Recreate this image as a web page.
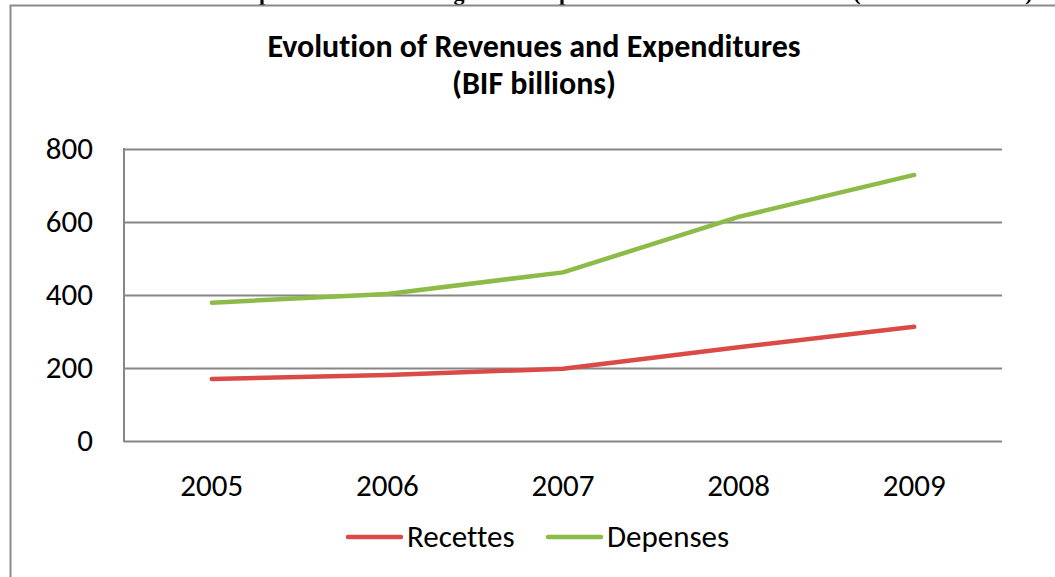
<!DOCTYPE html>
<html>
<head>
<meta charset="utf-8">
<script src="https://cdn.jsdelivr.net/npm/d3@7"></script>
<style>
	body { margin: 0; background: #fff; }
	svg { display: block; }
	text { font-family: Calibri, Carlito, "Open Sans", sans-serif; fill: #000; font-variant-ligatures: none; }
</style>
</head>
<body>
<div id="chart"></div>
<script>
const years = ["2005", "2006", "2007", "2008", "2009"];
const recettes = [170, 181, 198, 257, 313];
const depenses = [379, 403, 462, 614, 729];
const y_ticks = [0, 200, 400, 600, 800];
const series_names = ["Recettes", "Depenses"];
// fragments of the page heading that is cut off above the chart
const cut_glyphs = ["p", "g", "p", "(", ")"];
const cut_glyph_x = [265, 459, 565, 857, 1029];

const width = 1055;
const height = 577;
const margin = { top: 149, right: 53, bottom: 136, left: 124 };
const color_list = ["#da4b48", "#8cbb47"];

const svg = d3
	.select("#chart")
	.append("svg")
	.attr("width", width)
	.attr("height", height);

// heading above, only its descenders are visible
svg
	.selectAll(".cut")
	.data(cut_glyphs)
	.join("text")
	.attr("class", "cut")
	.attr("x", (d, i) => cut_glyph_x[i])
	.attr("y", 0)
	.attr("text-anchor", "middle")
	.style("font-family", "'Liberation Serif', serif")
	.style("font-weight", "bold")
	.style("font-size", "22px")
	.text((d) => d);

// outer chart border
svg
	.append("path")
	.attr("d", `M10.5,${height} V5.5 H${width}`)
	.attr("fill", "none")
	.attr("stroke", "#8a8a8a")
	.attr("stroke-width", 2);

const x = d3
	.scaleBand()
	.domain(years)
	.range([margin.left, width - margin.right]);

const y = d3
	.scaleLinear()
	.domain([0, 800])
	.range([height - margin.bottom, margin.top]);

// gridlines
svg
	.append("g")
	.attr("class", "grid")
	.attr("transform", `translate(${margin.left}, 0)`)
	.call(
		d3
			.axisLeft(y)
			.tickValues(y_ticks)
			.tickSize(-(width - margin.left - margin.right))
			.tickFormat("")
	)
	.call((g) => g.select(".domain").remove())
	.call((g) => g.selectAll("line").attr("stroke", "#868686").attr("stroke-width", 2));

// y axis line
svg
	.append("line")
	.attr("x1", margin.left)
	.attr("x2", margin.left)
	.attr("y1", y(800) - 1)
	.attr("y2", y(0) + 1)
	.attr("stroke", "#868686")
	.attr("stroke-width", 2);

// y tick labels
svg
	.selectAll(".ylab")
	.data(y_ticks)
	.join("text")
	.attr("class", "ylab")
	.attr("x", 93)
	.attr("y", (d) => y(d) + 10)
	.attr("text-anchor", "end")
	.style("font-size", "31px")
	.text((d) => d);

// x labels
svg
	.selectAll(".xlab")
	.data(years)
	.join("text")
	.attr("class", "xlab")
	.attr("x", (d) => x(d) + x.bandwidth() / 2)
	.attr("y", 496)
	.attr("text-anchor", "middle")
	.style("font-size", "31px")
	.text((d) => d);

// lines
const line = d3
	.line()
	.x((d, i) => x(years[i]) + x.bandwidth() / 2)
	.y((d) => y(d));

[recettes, depenses].forEach((values, i) => {
	svg
		.append("path")
		.datum(values)
		.attr("d", line)
		.attr("fill", "none")
		.attr("stroke", color_list[i])
		.attr("stroke-width", 4.5)
		.attr("stroke-linecap", "round")
		.attr("stroke-linejoin", "round");
});

// title
svg
	.append("text")
	.attr("x", 534)
	.attr("y", 57)
	.attr("text-anchor", "middle")
	.style("font-size", "32px")
	.style("font-weight", "bold")
	.text("Evolution of Revenues and Expenditures");

svg
	.append("text")
	.attr("x", 534)
	.attr("y", 94)
	.attr("text-anchor", "middle")
	.style("font-size", "32px")
	.style("font-weight", "bold")
	.text("(BIF billions)");

// legend
const legend_x = [348, 548];
series_names.forEach((name, i) => {
	const g = svg.append("g").attr("transform", `translate(${legend_x[i]}, 537)`);
	g.append("line")
		.attr("x1", 0)
		.attr("x2", 53)
		.attr("stroke", color_list[i])
		.attr("stroke-width", 4.5)
		.attr("stroke-linecap", "round");
	g.append("text")
		.attr("x", 59)
		.attr("y", 10)
		.style("font-size", "31px")
		.text(name);
});
</script>
</body>
</html>
